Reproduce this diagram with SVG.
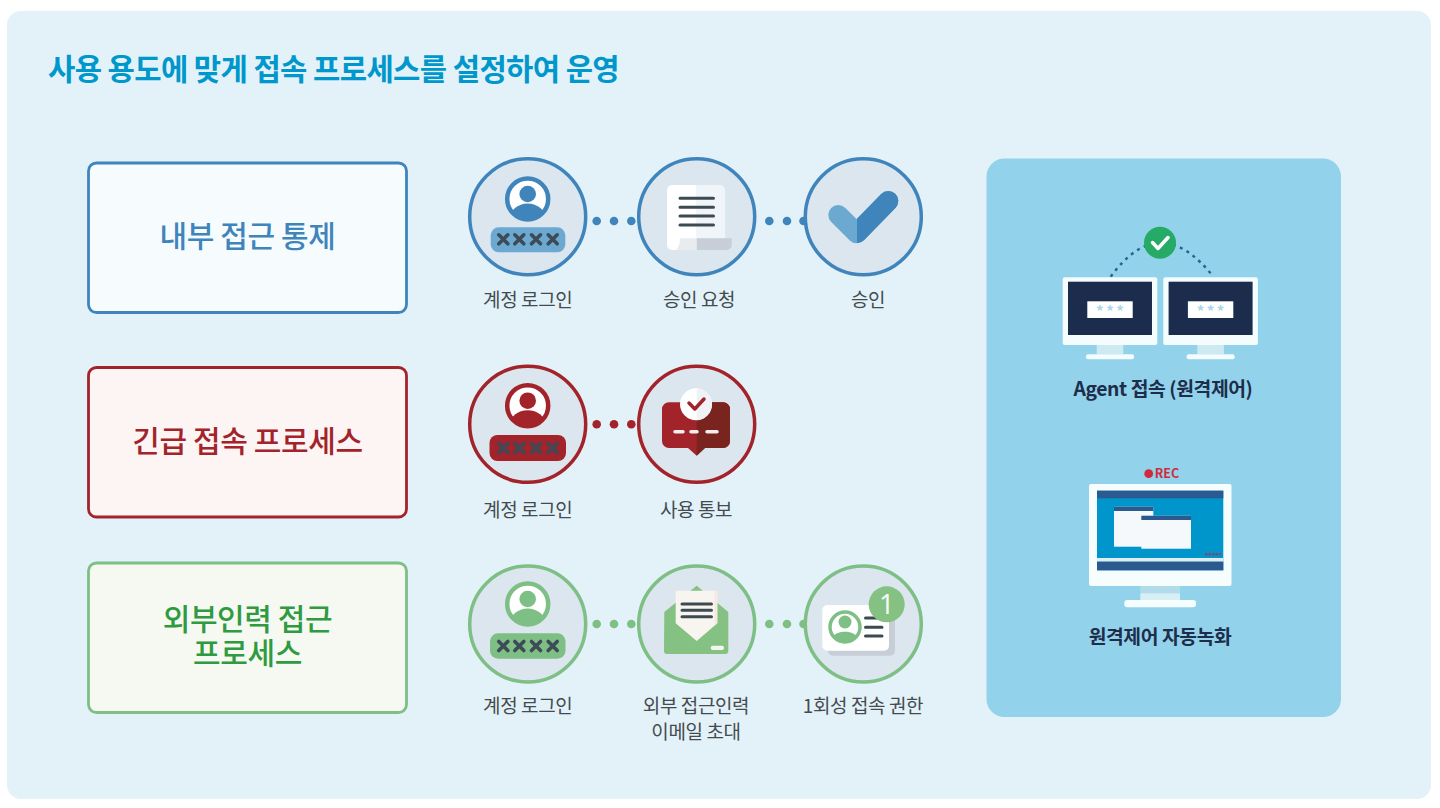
<svg xmlns="http://www.w3.org/2000/svg" width="1440" height="808" viewBox="0 0 1440 808">
<style>
text{font-family:"Noto Sans CJK KR","Noto Sans",sans-serif}
.title{font-size:29.7px;font-weight:700;fill:#0097cc;letter-spacing:-.6px}
.box{stroke-width:2.8}
.bl{font-size:30px;font-weight:500;text-anchor:middle;letter-spacing:-.4px}
.cap{font-size:19px;fill:#444b50;text-anchor:middle;letter-spacing:-.4px}
.side{font-size:19.300px;font-weight:700;fill:#1d2d4a;text-anchor:middle;letter-spacing:-.4px}
.ring{fill:#dce6ef;stroke-width:3.5}
.x{stroke:#3d4a57;stroke-width:3.6;stroke-linecap:round;fill:none}
.ln{stroke:#3d4a50;stroke-width:3;stroke-linecap:round;fill:none}
.ast{font-size:15px;fill:#a9d6e8;text-anchor:middle;letter-spacing:2.5px;font-weight:700}
.blue{color:#3f85bc}.red{color:#a3232a}.green{color:#7dbf85}
</style>
<defs>
<path id="xs" d="M-4.5-4.5 4.5 4.5M4.5-4.5-4.5 4.5"/>
<g id="xxxx" class="x"><use href="#xs" x="-24.4"/><use href="#xs" x="-8.4"/><use href="#xs" x="8.3"/><use href="#xs" x="25"/></g>
<clipPath id="avc"><circle r="20"/></clipPath>
<g id="avatar"><circle r="20.5" fill="#fff" stroke="currentColor" stroke-width="4.5"/><g clip-path="url(#avc)" fill="currentColor"><circle cy="-5" r="8.300"/><ellipse cy="19.500" rx="18" ry="15"/></g></g>
<clipPath id="chkR"><rect x="857" y="180" width="60" height="70"/></clipPath>
<clipPath id="msgR"><rect x="696.700" y="380" width="50" height="90"/></clipPath>
<clipPath id="white2"><rect x="696.700" y="380" width="50" height="60"/></clipPath>
<g id="mon"><rect width="94.600" height="67.700" rx="2" fill="#f4fcfe"/><rect x="5.300" y="4.400" width="84" height="53.300" fill="#1c2c4c"/><rect x="24.600" y="24" width="45.400" height="16.700" fill="#fff"/><rect x="34" y="67.700" width="26.600" height="9.300" fill="#cde9f2"/><rect x="23.300" y="77" width="48" height="5" rx="2" fill="#f4fcfe"/><text class="ast" x="48.500" y="40">***</text></g>
</defs>

<rect x="7" y="11" width="1424" height="788" rx="14" fill="#e3f2f8"/>
<text class="title" x="48" y="80">사용 용도에 맞게 접속 프로세스를 설정하여 운영</text>

<g id="side-panel"><rect x="986.500" y="158.500" width="354.500" height="558.500" rx="18" fill="#92d2ea"/></g>

<g id="connectors">
<g fill="#3f85bc"><circle cx="596.700" cy="221" r="4.300"/><circle cx="614" cy="221" r="4.300"/><circle cx="631.300" cy="221" r="4.300"/><circle cx="769.300" cy="221" r="4.300"/><circle cx="787" cy="221" r="4.300"/><circle cx="803.500" cy="221" r="4.300"/></g>
<g fill="#a3232a"><circle cx="596.700" cy="424.300" r="4.300"/><circle cx="614" cy="424.300" r="4.300"/><circle cx="631.300" cy="424.300" r="4.300"/></g>
<g fill="#7dbf85"><circle cx="596.700" cy="624" r="4.300"/><circle cx="614" cy="624" r="4.300"/><circle cx="631.300" cy="624" r="4.300"/><circle cx="769.300" cy="624" r="4.300"/><circle cx="787" cy="624" r="4.300"/><circle cx="803.500" cy="624" r="4.300"/></g>
<path d="M1110.700 276.700Q1160 209 1213.300 276.700" fill="none" stroke="#1e6a8e" stroke-width="2.500" stroke-dasharray="3 4.500"/>
</g>

<g id="box-internal"><rect class="box" x="88.500" y="163" width="318" height="149.500" rx="8" fill="#f6fcfe" stroke="#3f85bc"/><text class="bl" x="247.500" y="247" fill="#3f85bc">내부 접근 통제</text></g>
<g id="box-emergency"><rect class="box" x="88.500" y="367.500" width="318" height="149.500" rx="8" fill="#fdf4f4" stroke="#a3232a"/><text class="bl" x="247.500" y="452" fill="#a3232a">긴급 접속 프로세스</text></g>
<g id="box-external"><rect class="box" x="88.500" y="563" width="318" height="149.500" rx="8" fill="#f5f9f2" stroke="#7dbf85"/><text class="bl" fill="#2f9a3f"><tspan x="247.500" y="630">외부인력 접근</tspan><tspan x="247.500" y="664">프로세스</tspan></text></g>

<g id="n-blue-login" class="blue"><circle class="ring" cx="527.700" cy="216.700" r="58" stroke="currentColor"/><use href="#avatar" x="527.700" y="199"/><rect x="490.700" y="227.300" width="74.600" height="25" rx="8" fill="#6ca9d1"/><use href="#xxxx" x="527.700" y="239.300"/><text class="cap" x="527.700" y="307">계정 로그인</text></g>

<g id="n-blue-request" class="blue"><circle class="ring" cx="696.700" cy="216.700" r="58" stroke="currentColor"/><path d="M672 185H696.700V250H672a5 5 0 0 1-5-5V190a5 5 0 0 1 5-5Z" fill="#fff"/><path d="M696.700 185H720a5 5 0 0 1 5 5V238.300H696.700Z" fill="#f0f5f9"/><path d="M680 238.300H696.700V250H676Q680 246 680 238.300Z" fill="#e9ecee"/><path d="M696.700 238.300H731.700V245a5 5 0 0 1-5 5H696.700Z" fill="#c8ced8"/><path class="ln" d="M680 198.300H713.500M680 207.300H713.500M680 216H713.500M680 225H713.500"/><text class="cap" x="699" y="307">승인 요청</text></g>

<g id="n-blue-approve" class="blue"><circle class="ring" cx="863.300" cy="216.700" r="58" stroke="currentColor"/><path d="M838.300 215 856.800 233.300 888.300 201" fill="none" stroke="#6ca9d1" stroke-width="20" stroke-linecap="round" stroke-linejoin="round"/><path clip-path="url(#chkR)" d="M838.300 215 856.800 233.300 888.300 201" fill="none" stroke="#3f85bc" stroke-width="20" stroke-linecap="round" stroke-linejoin="round"/><text class="cap" x="868" y="307">승인</text></g>

<g id="n-red-login" class="red"><circle class="ring" cx="527.700" cy="424.300" r="58" stroke="currentColor"/><use href="#avatar" x="527.700" y="405.700"/><rect x="489.500" y="435" width="76.500" height="26" rx="8" fill="#a3232a"/><use href="#xxxx" x="527.700" y="448"/><text class="cap" x="527.700" y="517">계정 로그인</text></g>

<g id="n-red-notify" class="red"><circle class="ring" cx="696.700" cy="424.300" r="58" stroke="currentColor"/><path d="M669 402.300H723a7 7 0 0 1 7 7V441a7 7 0 0 1-7 7H705L696.700 455.700 688 448H669a7 7 0 0 1-7-7V409.300a7 7 0 0 1 7-7Z" fill="#a3232a"/><path clip-path="url(#msgR)" d="M669 402.300H723a7 7 0 0 1 7 7V441a7 7 0 0 1-7 7H705L696.700 455.700 688 448H669a7 7 0 0 1-7-7V409.300a7 7 0 0 1 7-7Z" fill="#7a241f"/><circle cx="696" cy="404.300" r="16" fill="#fff"/><circle clip-path="url(#white2)" cx="696" cy="404.300" r="16" fill="#eff3f6"/><path d="M689 403 694.800 409 704 399" fill="none" stroke="#a3232a" stroke-width="3.500" stroke-linecap="round" stroke-linejoin="round"/><path d="M675 431.700H683M691 431.700H697M707 431.700H717" stroke="#f5eeee" stroke-width="3.500" stroke-linecap="round"/><text class="cap" x="696" y="517">사용 통보</text></g>

<g id="n-green-login" class="green"><circle class="ring" cx="527.700" cy="624" r="58" stroke="currentColor"/><use href="#avatar" x="527.700" y="604"/><rect x="490" y="633.300" width="75.500" height="25.400" rx="8" fill="#7dbf85"/><use href="#xxxx" x="527.700" y="646"/><text class="cap" x="527.700" y="713">계정 로그인</text></g>

<g id="n-green-invite" class="green"><circle class="ring" cx="696.700" cy="624" r="58" stroke="currentColor"/><path d="M664.300 612 696.700 585.700 728.300 612V651a3 3 0 0 1-3 3H667a3 3 0 0 1-3-3Z" fill="#84c182"/><path d="M675.700 590.700H717.300V623.300L696.700 641 675.700 623.300Z" fill="#f8f5f1"/><path d="M714.500 590.700H717.300V623.300L714.500 625.700Z" fill="#f5e9e1"/><path class="ln" d="M682 604H711.500M682 610.300H711.500M682 616.700H711.500" stroke-width="2"/><rect x="710.700" y="645.700" width="13.300" height="4.400" rx="2" fill="#f1f7ef"/><text class="cap"><tspan x="696" y="713">외부 접근인력</tspan><tspan x="696" y="739">이메일 초대</tspan></text></g>

<g id="n-green-auth" class="green"><circle class="ring" cx="863.300" cy="624" r="58" stroke="currentColor"/><rect x="828" y="612" width="67" height="43.700" rx="5" fill="#c8ced8"/><rect x="822.300" y="605" width="66.700" height="45.700" rx="5" fill="#fff"/><circle cx="845" cy="627" r="15" fill="#fff" stroke="#7dbf85" stroke-width="3.500"/><circle cx="845" cy="622" r="6.500" fill="#7dbf85"/><path d="M833.500 636.500C836 630 854 630 856.500 636.500A14.500 14.500 0 0 1 833.500 636.500Z" fill="#7dbf85"/><path class="ln" d="M865.500 618H882M865.500 627.300H882M865.500 636H882" stroke-width="2.500"/><circle cx="886.700" cy="604.300" r="18" fill="#84c182"/><text x="886.700" y="614" font-size="27" fill="#f5f9f2" text-anchor="middle" style="font-family:'Noto Sans',sans-serif">1</text><text class="cap" x="863" y="713">1회성 접속 권한</text></g>

<g id="n-agent"><use href="#mon" x="1062.700" y="277.300"/><use href="#mon" x="1163.300" y="277.300"/><circle cx="1160" cy="242.700" r="16" fill="#25ab65"/><path d="M1152.500 242.500 1158 248.500 1168 237.500" fill="none" stroke="#fff" stroke-width="3.500" stroke-linecap="round" stroke-linejoin="round"/><text class="side" x="1163" y="396">Agent 접속 (원격제어)</text></g>

<g id="n-record"><circle cx="1148.700" cy="473.700" r="4.400" fill="#d22a3c"/><text x="1167" y="478" font-size="12.500" font-weight="700" fill="#d22a3c" text-anchor="middle">REC</text><rect x="1089" y="484" width="142.500" height="102" rx="2" fill="#f6fdff"/><rect x="1097" y="490.700" width="126.300" height="79.600" fill="#0096cc"/><rect x="1097" y="490.700" width="126.300" height="7.600" fill="#2a5a8f"/><rect x="1097" y="558" width="126.300" height="3.700" fill="#e1ecef"/><rect x="1097" y="561.700" width="126.300" height="8.600" fill="#2a5a8f"/><rect x="1114" y="506.700" width="39.300" height="40" fill="#f5f9fb"/><rect x="1114" y="506.700" width="39.300" height="4.300" fill="#2a5a8f"/><rect x="1141.300" y="515.700" width="49.700" height="33" fill="#f5f9fb"/><rect x="1141.300" y="515.700" width="49.700" height="4.300" fill="#2a5a8f"/><path d="M1205 554.300H1220.700" stroke="#7a4a78" stroke-width="2.500" stroke-dasharray="2.500 1"/><rect x="1140.300" y="586" width="39.700" height="7.300" fill="#b3dcea"/><rect x="1140.300" y="593.300" width="39.700" height="6.700" fill="#d8eff5"/><rect x="1124.300" y="600" width="71.700" height="7.300" rx="3" fill="#f6fdff"/><text class="side" x="1160" y="644">원격제어 자동녹화</text></g>
</svg>
